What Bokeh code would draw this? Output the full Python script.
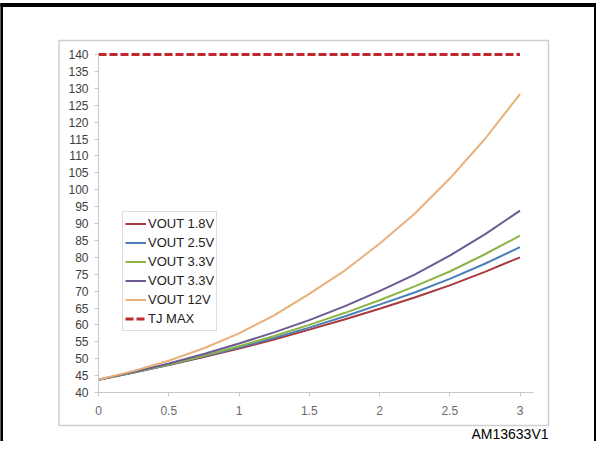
from bokeh.plotting import figure
from bokeh.models import Range1d, LinearAxis, Grid, FixedTicker, Label, Legend, LegendItem
from bokeh.embed import file_html
from bokeh.resources import INLINE

# ---------------- data ----------------
current = [0, 0.25, 0.5, 0.75, 1.0, 1.25, 1.5, 1.75, 2.0, 2.25, 2.5, 2.75, 3.0]
vout_1v8 = [43.8, 45.9, 48.1, 50.5, 53.0, 55.7, 58.6, 61.6, 64.8, 68.1, 71.7, 75.7, 80.0]
vout_2v5 = [43.8, 45.9, 48.2, 50.7, 53.3, 56.1, 59.2, 62.5, 66.0, 69.6, 73.6, 78.1, 83.0]
vout_3v3a = [43.8, 46.0, 48.3, 50.9, 53.7, 56.7, 60.0, 63.5, 67.3, 71.4, 75.8, 80.9, 86.4]
vout_3v3b = [43.8, 46.1, 48.6, 51.4, 54.5, 57.8, 61.4, 65.5, 70.0, 74.9, 80.5, 86.8, 93.8]
vout_12v = [43.8, 46.4, 49.4, 53.1, 57.5, 62.8, 69.2, 76.0, 84.0, 92.9, 103.3, 115.0, 128.3]
tj_current = [0, 3]
tj_max = [140, 140]

series_labels = ["VOUT 1.8V", "VOUT 2.5V", "VOUT 3.3V", "VOUT 3.3V", "VOUT 12V"]
series_values = [vout_1v8, vout_2v5, vout_3v3a, vout_3v3b, vout_12v]
series_colors = ["#a8393c", "#4a7fb7", "#8db546", "#6c5a92", "#e8b07a"]
tj_label = "TJ MAX"

x_ticks = [0, 0.5, 1, 1.5, 2, 2.5, 3]
y_ticks = [40, 45, 50, 55, 60, 65, 70, 75, 80, 85, 90, 95, 100, 105, 110, 115,
           120, 125, 130, 135, 140]

# ---------------- layout ----------------
W, H = 596, 441
X0_PX, X3_PX = 98.0, 519.5      # x = 0 and x = 3 (pixels)
Y40_PX, Y140_PX = 392.0, 54.0   # y = 40 and y = 140 (pixels)
sx = (X3_PX - X0_PX) / 3.0
sy = (Y40_PX - Y140_PX) / 100.0

def dx(px):
    return (px - X0_PX) / sx

def dy(py):
    return 40.0 + (Y40_PX - py) / sy

x_lo, x_hi = dx(0), dx(W)
y_hi, y_lo = dy(0), dy(H)

p = figure(width=W, height=H, output_backend="svg", toolbar_location=None,
           x_range=Range1d(x_lo, x_hi), y_range=Range1d(y_lo, y_hi),
           x_axis_type=None, y_axis_type=None, min_border=0,
           background_fill_color="white", border_fill_color="white")
p.outline_line_color = None

# outer black frame and inner gray chart frame
p.quad(left=x_lo, right=x_hi, top=dy(3), bottom=dy(6), color="black")
p.quad(left=x_lo, right=dx(2), top=dy(3), bottom=y_lo, color="black")
p.quad(left=dx(W - 2), right=x_hi, top=dy(3), bottom=y_lo, color="black")
p.quad(left=dx(58.5), right=dx(548), top=dy(40), bottom=dy(425),
       fill_color="white", line_color="#cfcfcf", line_width=1.5)

# grid
grid = Grid(dimension=1, ticker=FixedTicker(ticks=y_ticks[1:]),
            grid_line_color="#e3e3e3", grid_line_width=1,
            cross_bounds=(0, dx(533)))
p.add_layout(grid)

# axes
yaxis = LinearAxis(fixed_location=0, ticker=FixedTicker(ticks=y_ticks),
                   bounds=(40, 140))
yaxis.axis_line_color = "#c8c8c8"
yaxis.major_tick_line_color = "#c8c8c8"
yaxis.major_tick_out = 4
yaxis.major_tick_in = 0
yaxis.minor_tick_line_color = None
yaxis.major_label_standoff = 6
yaxis.major_label_text_font = "Liberation Sans"
yaxis.major_label_text_font_size = "12px"
yaxis.major_label_text_color = "#404040"
p.add_layout(yaxis, "left")

xaxis = LinearAxis(fixed_location=40, ticker=FixedTicker(ticks=x_ticks),
                   bounds=(0, dx(533)))
xaxis.axis_line_color = "#c8c8c8"
xaxis.major_tick_line_color = "#c8c8c8"
xaxis.major_tick_out = 4
xaxis.major_tick_in = 0
xaxis.minor_tick_line_color = None
xaxis.major_label_standoff = 9
xaxis.major_label_text_font = "Liberation Sans"
xaxis.major_label_text_font_size = "12px"
xaxis.major_label_text_color = "#6a6a6a"
p.add_layout(xaxis, "below")

# series
items = []
for lab, vals, col in zip(series_labels, series_values, series_colors):
    r = p.line(current, vals, line_color=col, line_width=2)
    items.append(LegendItem(label=lab, renderers=[r]))
r_tj = p.line(tj_current, tj_max, line_color="#c0262c", line_width=3, line_dash="8 3")
items.append(LegendItem(label=tj_label, renderers=[r_tj]))

leg = Legend(items=items, location=(122, 110))
leg.label_text_font = "Liberation Sans"
leg.label_text_font_size = "13px"
leg.label_text_color = "#222222"
leg.glyph_width = 21
leg.glyph_height = 19
leg.label_height = 19
leg.label_standoff = 2
leg.spacing = 0
leg.padding = 2
leg.margin = 0
leg.border_line_color = "#bdbdbd"
leg.border_line_width = 1
leg.background_fill_color = "white"
leg.background_fill_alpha = 1
p.add_layout(leg, "center")

p.add_layout(Label(x=dx(548), y=dy(433), text="AM13633V1",
                   text_align="right", text_baseline="middle",
                   text_font="Liberation Sans", text_font_size="14px",
                   text_color="black"))

open("out.html", "w").write(file_html(p, INLINE))
